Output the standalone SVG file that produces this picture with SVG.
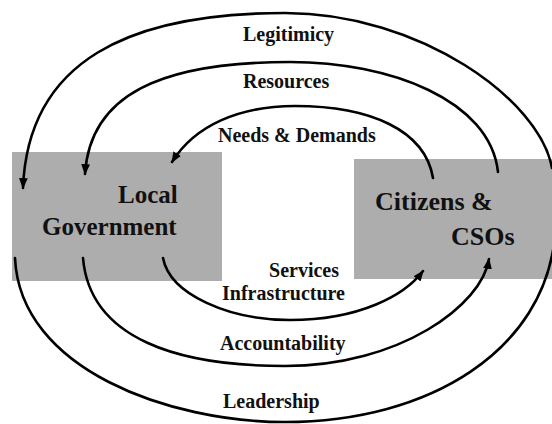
<svg xmlns="http://www.w3.org/2000/svg" width="552" height="424" viewBox="0 0 552 424">
<style>
.box{fill:#adadad;stroke:none}
.nt{font-family:"Liberation Serif","Times New Roman",serif;font-size:25px;font-weight:bold;fill:#111}
.nt2{font-family:"Liberation Serif","Times New Roman",serif;font-size:26px;font-weight:bold;fill:#111}
.lb{font-family:"Liberation Serif","Times New Roman",serif;font-size:20px;font-weight:bold;fill:#111}
.c{fill:none;stroke:#000;stroke-width:2.6;stroke-linecap:round}
</style>
<defs>
<marker id="ah" viewBox="0 0 10 8" refX="9" refY="4" markerWidth="4.2" markerHeight="3.4" orient="auto" markerUnits="strokeWidth">
<path d="M0,0 L10,4 L0,8 Z" fill="#000"/>
</marker>
</defs>
<rect width="552" height="424" fill="#fff"/>
<g id="local-government">
<rect class="box" x="12" y="152" width="210" height="129"/>
<text class="nt" x="118" y="203">Local</text>
<text class="nt" x="42" y="235">Government</text>
</g>
<g id="citizens-csos">
<rect class="box" x="354" y="159" width="200" height="120"/>
<text class="nt2" x="375" y="210">Citizens &amp;</text>
<text class="nt2" x="451" y="245">CSOs</text>
</g>
<g id="connectors">
<path class="c" marker-end="url(#ah)" d="M552,168 C540,100 420,13 285,13 C130,13 28,60 23,188"/>
<path class="c" marker-end="url(#ah)" d="M498,172 C490,100 390,62 290,62 C160,62 90,95 85,174"/>
<path class="c" marker-end="url(#ah)" d="M433,178 C425,130 370,106 295,106 C240,106 195,125 172,162"/>
<path class="c" marker-end="url(#ah)" d="M163,258 C170,295 230,320 290,320 C360,320 405,295 423,271"/>
<path class="c" marker-end="url(#ah)" d="M83,258 C90,340 180,366 285,366 C400,366 482,305 489,259"/>
<path class="c" d="M15,258 C20,370 170,422 285,422 C430,422 545,350 555,235"/>
</g>
<g id="labels">
<text class="lb" x="243" y="41">Legitimicy</text>
<text class="lb" x="243" y="88">Resources</text>
<text class="lb" x="218" y="142">Needs &amp; Demands</text>
<text class="lb" x="339" y="277" text-anchor="end">Services</text>
<text class="lb" x="222" y="300">Infrastructure</text>
<text class="lb" x="220" y="350">Accountability</text>
<text class="lb" x="223" y="408">Leadership</text>
</g>
</svg>
